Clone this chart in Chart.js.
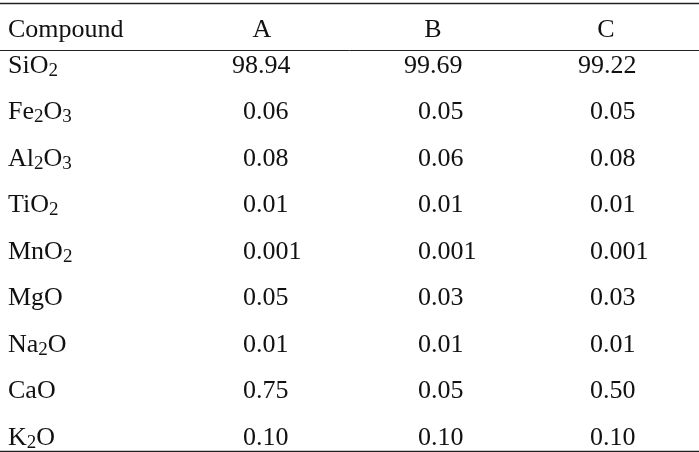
<!DOCTYPE html>
<html><head><meta charset="utf-8">
<script src="https://cdn.jsdelivr.net/npm/chart.js@4"></script>
<style>html,body{margin:0;padding:0;background:#fff}#w{width:699px;height:452px}</style>
</head><body><div id="w"><canvas id="c"></canvas></div>
<script>
const headers = ['Compound', 'A', 'B', 'C'];
const compounds = ['SiO2', 'Fe2O3', 'Al2O3', 'TiO2', 'MnO2', 'MgO', 'Na2O', 'CaO', 'K2O'];
const valuesA = ['98.94', '0.06', '0.08', '0.01', '0.001', '0.05', '0.01', '0.75', '0.10'];
const valuesB = ['99.69', '0.05', '0.06', '0.01', '0.001', '0.03', '0.01', '0.05', '0.10'];
const valuesC = ['99.22', '0.05', '0.08', '0.01', '0.001', '0.03', '0.01', '0.50', '0.10'];

const headX = [8, 262, 433, 606];
const valX = [8, 243, 418, 590];
const firstRowX = [8, 232, 404, 578];
const FONT = '"Liberation Serif", "DejaVu Serif", serif';
const FS = 26;

function mk(col, arr) {
  return arr.map((v, i) => ({ x: i === 0 ? firstRowX[col] : valX[col], y: i + 1, t: v }));
}
const datasets = [
  { data: mk(0, compounds) },
  { data: mk(1, valuesA) },
  { data: mk(2, valuesB) },
  { data: mk(3, valuesC) }
].map(d => Object.assign(d, { pointRadius: 0, pointHoverRadius: 0 }));

function drawChem(ctx, s, x, y, align) {
  const parts = [];
  let cur = '', sub = false;
  const numeric = /^[0-9.]+$/.test(s);
  for (const ch of s) {
    const d = /[0-9]/.test(ch) && !numeric;
    if (d !== sub && cur) { parts.push([cur, sub]); cur = ''; }
    sub = d; cur += ch;
  }
  if (cur) parts.push([cur, sub]);
  const fN = FS + 'px ' + FONT, fS = Math.round(FS * 0.72) + 'px ' + FONT;
  let w = 0;
  parts.forEach(p => { ctx.font = p[1] ? fS : fN; w += ctx.measureText(p[0]).width; });
  let cx = align === 'center' ? x - w / 2 : x;
  ctx.textAlign = 'left'; ctx.textBaseline = 'middle';
  parts.forEach(p => {
    ctx.font = p[1] ? fS : fN;
    ctx.fillText(p[0], cx, p[1] ? y + 5 : y);
    cx += ctx.measureText(p[0]).width;
  });
}

const tablePlugin = {
  id: 'table',
  afterDatasetsDraw(chart) {
    const ctx = chart.ctx, xs = chart.scales.x, ys = chart.scales.y;
    ctx.save();
    ctx.fillStyle = '#111';
    chart.data.datasets.forEach((ds, di) => {
      chart.getDatasetMeta(di).data.forEach((el, i) => drawChem(ctx, ds.data[i].t, el.x, el.y, 'left'));
    });
    const hy = ys.getPixelForValue(0.226);
    headers.forEach((h, i) => drawChem(ctx, h, xs.getPixelForValue(headX[i]), hy, i === 0 ? 'left' : 'center'));
    ctx.strokeStyle = '#222';
    [[-0.355, 1.3], [0.656, 1.0], [9.28, 1.3]].forEach(([v, lw]) => {
      const py = Math.round(ys.getPixelForValue(v)) + 0.5;
      ctx.lineWidth = lw;
      ctx.beginPath(); ctx.moveTo(xs.left, py); ctx.lineTo(xs.right, py); ctx.stroke();
    });
    ctx.restore();
  }
};

const yMin = 1 - 66 / 46.5;
new Chart(document.getElementById('c'), {
  type: 'scatter',
  data: { datasets },
  options: {
    responsive: true, maintainAspectRatio: false, animation: false,
    layout: { padding: 0 },
    plugins: { legend: { display: false }, tooltip: { enabled: false } },
    events: [],
    scales: {
      x: { type: 'linear', min: 0, max: 699, display: false },
      y: { type: 'linear', min: yMin, max: yMin + 452 / 46.5, reverse: true, display: false }
    }
  },
  plugins: [tablePlugin]
});
</script></body></html>
